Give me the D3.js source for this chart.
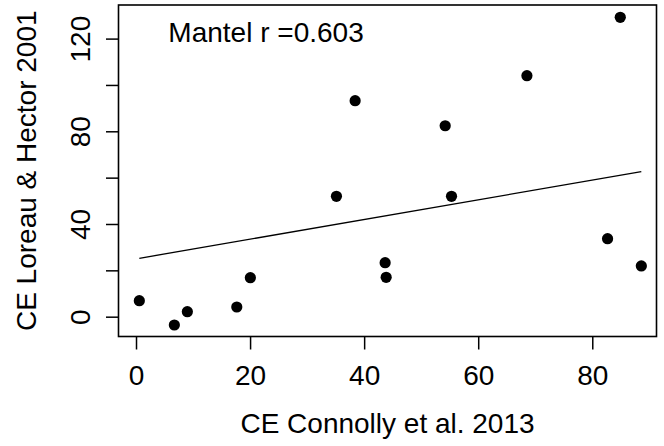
<!DOCTYPE html>
<html>
<head>
<meta charset="utf-8">
<script src="https://cdn.jsdelivr.net/npm/d3@7"></script>
<style>
  html, body { margin: 0; padding: 0; background: #fff; }
  svg { display: block; }
  text { font-family: "Liberation Sans", Arial, Helvetica, sans-serif; fill: #000; }
</style>
</head>
<body>
<svg id="chart" width="664" height="446"></svg>
<script>
// Community-effect estimates from the two studies
const connolly = [0.58, 6.72, 9.0, 17.67, 20.05, 35.14, 38.42, 43.68, 43.86, 54.21, 55.32, 68.54, 82.68, 84.91, 88.6];
const loreau   = [6.9, -3.58, 2.16, 4.19, 16.83, 51.96, 93.2, 23.3, 17.0, 82.4, 51.96, 104.0, 33.66, 129.2, 21.9];

// Fitted line and Mantel statistic
const fitIntercept = 24.95;
const fitSlope = 0.425;
const mantelR = 0.603;

// Axis ticks
const xTicks = [0, 20, 40, 60, 80];
const yTicks = [0, 20, 40, 60, 80, 100, 120];
const yTickLabels = [0, 40, 80, 120];

const xTitle = "CE Connolly et al. 2013";
const yTitle = "CE Loreau & Hector 2001";

const svg = d3.select("#chart");
const box = { left: 118.5, right: 656.5, top: 5, bottom: 336.5 };
const fontSize = 28;

const x = d3.scaleLinear().domain([-3.07, 91.26]).range([box.left, box.right]);
const y = d3.scaleLinear().domain([-8.55, 134.5]).range([box.bottom, box.top]);

// Bottom axis
const xAxis = svg.append("g")
  .attr("transform", `translate(0,${box.bottom})`)
  .call(d3.axisBottom(x).tickValues(xTicks).tickSize(13).tickPadding(15.5).tickSizeOuter(0).tickFormat(d3.format("d")));
xAxis.select(".domain").remove();
xAxis.selectAll("line").attr("stroke", "#000").attr("stroke-width", 1.5);
xAxis.selectAll("text").style("font-size", fontSize + "px").attr("fill", "#000");

// Left axis with rotated labels
const yAxis = svg.append("g")
  .attr("transform", `translate(${box.left},0)`)
  .call(d3.axisLeft(y).tickValues(yTicks).tickSize(12.5).tickSizeOuter(0)
    .tickFormat(d => yTickLabels.includes(d) ? String(d) : ""));
yAxis.select(".domain").remove();
yAxis.selectAll("line").attr("stroke", "#000").attr("stroke-width", 1.5);
yAxis.selectAll("text")
  .attr("x", null).attr("y", null).attr("dy", null)
  .attr("text-anchor", "middle")
  .attr("transform", "translate(-28.5,0) rotate(-90)")
  .style("font-size", fontSize + "px")
  .attr("fill", "#000");

// Plot frame
svg.append("rect")
  .attr("x", box.left).attr("y", box.top)
  .attr("width", box.right - box.left).attr("height", box.bottom - box.top)
  .attr("fill", "none").attr("stroke", "#000").attr("stroke-width", 1.6);

// Fitted line over the observed range
const xExtent = d3.extent(connolly);
svg.append("line")
  .attr("x1", x(xExtent[0])).attr("y1", y(fitIntercept + fitSlope * xExtent[0]))
  .attr("x2", x(xExtent[1])).attr("y2", y(fitIntercept + fitSlope * xExtent[1]))
  .attr("stroke", "#000").attr("stroke-width", 1.3);

// Points
svg.append("g").selectAll("circle")
  .data(connolly.map((d, i) => [d, loreau[i]]))
  .join("circle")
  .attr("cx", d => x(d[0]))
  .attr("cy", d => y(d[1]))
  .attr("r", 5.6)
  .attr("fill", "#000");

// Mantel annotation
svg.append("text")
  .attr("x", x(22.8)).attr("y", 42.3)
  .attr("text-anchor", "middle")
  .style("font-size", fontSize + "px")
  .text("Mantel r =" + mantelR);

// Axis titles
svg.append("text")
  .attr("x", (box.left + box.right) / 2).attr("y", 433)
  .attr("text-anchor", "middle")
  .style("font-size", fontSize + "px")
  .text(xTitle);

svg.append("text")
  .attr("transform", `translate(36,${(box.top + box.bottom) / 2}) rotate(-90)`)
  .attr("text-anchor", "middle")
  .style("font-size", fontSize + "px")
  .text(yTitle);
</script>
</body>
</html>
